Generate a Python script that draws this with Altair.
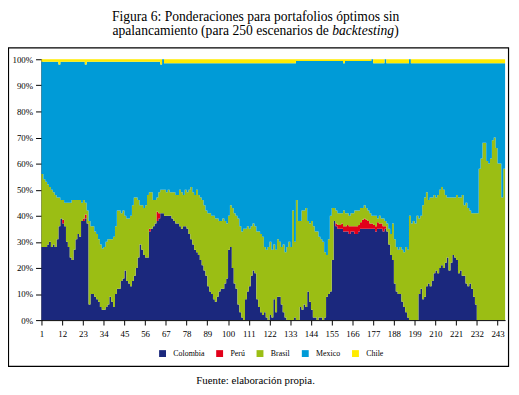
import altair as alt
import pandas as pd

# ---------------- data ----------------
scenarios = list(range(1, 247))

# Colombia share (%), bottom layer; rows of 11 scenarios (1-11, 12-22, ...)
colombia = [
    28, 28, 28, 29, 30, 28, 29, 28, 31, 36, 39,
    37, 36, 30, 28, 24, 23, 27, 31, 33, 32, 38,
    38, 39, 37, 6, 10, 10, 9, 8, 7, 5, 4,
    4, 5, 6, 9, 7, 5, 10, 12, 12, 15, 16,
    19, 15, 14, 13, 15, 17, 20, 24, 29, 27, 25,
    24, 24, 34, 35, 36, 37, 38, 39, 41, 41, 40,
    40, 40, 40, 39, 38, 37, 37, 36, 35, 36, 36,
    35, 33, 31, 29, 27, 26, 25, 23, 21, 19, 17,
    13, 11, 10, 8, 7, 9, 11, 12, 12, 14, 16,
    27, 28, 20, 14, 12, 6, 3, 1, 0, 8, 11,
    13, 17, 19, 18, 8, 5, 3, 2, 3, 1, 0,
    2, 1, 8, 3, 9, 9, 6, 3, 1, 0, 0,
    0, 0, 1, 0, 0, 5, 4, 6, 5, 11, 7,
    4, 1, 1, 0, 1, 1, 0, 1, 9, 10, 11,
    23, 38, 36, 35, 35, 35, 34, 34, 34, 33, 34,
    34, 33, 33, 34, 35, 35, 35, 35, 35, 35, 35,
    35, 34, 35, 35, 35, 34, 35, 34, 29, 25, 23,
    14, 11, 10, 10, 7, 5, 3, 1, 0, 0, 0,
    0, 0, 10, 12, 8, 9, 13, 14, 13, 15, 18,
    19, 18, 20, 21, 20, 22, 24, 19, 22, 25, 24,
    23, 18, 19, 17, 17, 14, 13, 14, 12, 9, 6,
    0, 0, 0, 0, 0, 0, 0, 0, 0, 0, 0,
    0, 0, 0, 0,
]

# Perú share (%)
peru = [
    0, 0, 0, 0, 0, 0, 0, 0, 0, 0, 0,
    1.5, 0, 0, 0, 0, 0, 0, 0, 0, 0, 0,
    1, 1.5, 0, 0, 0, 0, 0, 0, 0, 0, 0,
    0, 0, 0, 0, 0, 0, 0, 0, 0, 0, 0,
    0, 0, 0, 0, 0, 0, 0, 0, 0, 0, 0,
    0, 0, 1, 0, 0, 0, 3.5, 2, 0, 0, 0,
    0, 0, 0, 0, 0, 0, 0, 0, 0, 0, 0,
    0, 0, 0, 0, 0, 0, 0, 0, 0, 0, 0,
    0, 0, 0, 0, 0, 0, 0, 0, 0, 0, 0,
    0, 0, 0, 0, 0, 0, 0, 0, 0, 0, 0,
    0, 0, 0, 0, 0, 0, 0, 0, 0, 0, 0,
    0, 0, 0, 0, 0, 0, 0, 0, 0, 0, 0,
    0, 0, 0, 0, 0, 0, 0, 0, 0, 0, 0,
    0, 0, 0, 0, 0, 0, 0, 0, 0, 0, 0,
    0, 0, 1, 1.5, 1.5, 2, 2, 2, 2.5, 3, 2,
    2, 3, 3, 2.5, 2.5, 3.5, 4, 3.5, 3, 2, 2,
    1.5, 2, 2.5, 2, 2, 2, 1, 0, 0, 0, 0,
    0, 0, 0, 0, 0, 0, 0, 0, 0, 0, 0,
    0, 0, 0, 0, 0, 0, 0, 0, 0, 0, 0,
    0, 0, 0, 0, 0, 0, 0, 0, 0, 0, 0,
    0, 0, 0, 0, 0, 0, 0, 0, 0, 0, 0,
    0, 0, 0, 0, 0, 0, 0, 0, 0, 0, 0,
    0, 0, 0, 0,
]

# top edge of the Brasil layer (Colombia + Perú + Brasil), %
brasil_top = [
    56, 54, 53, 52, 51, 50, 49, 48, 47, 47, 46,
    46, 45, 45, 45, 45, 46, 46, 46, 46, 46, 45,
    46, 45, 42, 38, 36, 36, 34, 33, 31, 29, 27.5,
    28, 30, 31, 31, 31, 32, 36, 42, 42, 41, 42,
    40, 39, 39, 40, 44, 47, 47, 46, 44, 44, 43,
    44, 48, 49, 49, 46, 46, 47, 49, 50, 50, 50,
    49, 50, 49, 49, 49, 48, 48, 50, 49, 48, 50,
    49, 50, 51, 49, 48, 50, 48, 47, 46, 44, 42,
    41, 41, 40, 40, 39, 39, 38, 38, 39, 38, 37,
    40, 44, 43, 41, 40, 39, 36, 34, 35, 35, 36,
    35, 36, 37, 36, 34, 34, 33, 32, 28, 27, 28,
    30, 27, 29, 27, 31, 30, 28, 29, 26, 28, 30,
    28, 42, 30, 46, 38, 38, 42, 42, 43, 38, 37,
    38, 36, 34, 34, 32, 31, 30, 26, 25, 31, 40,
    43, 43, 42, 41, 41, 41, 42, 41, 41, 40, 41,
    41, 42, 42, 42, 43, 43, 44, 43, 42, 41, 40,
    40, 40, 39, 40, 39, 39, 38, 37, 35, 33, 37,
    31, 28, 27, 28, 27, 26, 28, 27, 40, 37, 38,
    37, 40, 39, 40, 44, 47, 49, 46, 47, 47, 48,
    47, 48, 50, 51, 50, 48, 47, 47, 47, 47, 47,
    48, 47, 47, 48, 44, 45, 43, 42, 41, 41, 41,
    41, 58, 62, 68, 68, 61, 60, 62, 69, 70, 66,
    60, 60, 47, 58,
]

# Chile share (%), top layer
chile = [
    1, 1, 1, 1, 1, 1, 1, 1, 1, 2, 1,
    1, 1, 1, 1, 1, 1, 1, 1, 1, 1, 1,
    1, 2, 1, 1, 1, 1, 1, 1, 1, 1, 1,
    1, 1, 1, 1, 1, 1, 1, 1, 1, 1, 1,
    1, 1, 1, 1, 1, 1, 1, 1, 1, 1, 1,
    1, 1, 1, 1, 1, 1, 1, 1, 2, 0, 1.5,
    1.5, 1.5, 1.5, 1.5, 1.5, 1.5, 1.5, 1.5, 1.5, 1.5, 1.5,
    1.5, 1.5, 1.5, 1.5, 1.5, 1.5, 1.5, 1.5, 1.5, 1.5, 1.5,
    1.5, 1.5, 1.5, 1.5, 1.5, 1.5, 1.5, 1.5, 1.5, 1.5, 1.5,
    1.5, 1.5, 1.5, 1.5, 1.5, 1.5, 1.5, 1.5, 1.5, 1.5, 1.5,
    1.5, 1.5, 1.5, 1.5, 1.5, 1.5, 1.5, 1.5, 1.5, 1.5, 1.5,
    1.5, 1.5, 1.5, 1.5, 1.5, 1.5, 1.5, 1.5, 1.5, 1.5, 1.5,
    1.5, 1.5, 1.5, 0.7, 0.7, 0.7, 0.7, 0.7, 0.7, 0.7, 0.7,
    0.7, 0.7, 0.7, 0.7, 0.7, 0.7, 0.7, 0.7, 0.7, 0.7, 0.7,
    0.7, 0.7, 0.7, 0.7, 0.7, 0.7, 1.5, 0.7, 0.7, 0.7, 0.7,
    0.7, 0.7, 0.7, 0.7, 0.7, 0.7, 0.7, 0.7, 0.7, 0.7, 0,
    1.5, 1.5, 1.5, 1.5, 1.5, 1.5, 0, 1.5, 1.5, 1.5, 1.5,
    1.5, 1.5, 1.5, 1.5, 1.5, 1.5, 1.5, 1.5, 0, 1.5, 1.5,
    1.5, 1.5, 1.5, 1.5, 1.5, 1.5, 1.5, 1.5, 1.5, 1.5, 1.5,
    1.5, 1.5, 1.5, 1.5, 1.5, 1.5, 1.5, 1.5, 1.5, 1.5, 1.5,
    1.5, 1.5, 1.5, 1.5, 1.5, 1.5, 1.5, 1.5, 1.5, 1.5, 1.5,
    1.5, 1.5, 1.5, 1.5, 1.5, 1.5, 1.5, 1.5, 1.5, 1.5, 1.5,
    1.5, 1.5, 1.5, 1.5,
]

series = ["Colombia", "Perú", "Brasil", "Mexico", "Chile"]
colors = ["#1B287D", "#E2001A", "#9BBE14", "#009BD7", "#FFEB00"]
x_ticks = [1, 12, 23, 34, 45, 56, 67, 78, 89, 100, 111, 122, 133, 144, 155,
           166, 177, 188, 199, 210, 221, 232, 243]
y_ticks = [0, 10, 20, 30, 40, 50, 60, 70, 80, 90, 100]

title_1 = "Figura 6: Ponderaciones para portafolios óptimos sin"
title_2a = "apalancamiento (para 250 escenarios de"
title_2b = "backtesting"
title_2c = ")"
source = "Fuente: elaboración propia."

# ---------------- long table ----------------
rows = []
for i, s in enumerate(scenarios):
    brasil = brasil_top[i] - colombia[i] - peru[i]
    mexico = 100 - chile[i] - brasil_top[i]
    vals = [colombia[i], peru[i], brasil, mexico, chile[i]]
    for k, name in enumerate(series):
        rows.append({"s": s, "serie": name, "orden": k, "valor": vals[k]})
# close the last step at the right edge of the last scenario
for k, name in enumerate(series):
    last = [r for r in rows if r["s"] == scenarios[-1] and r["serie"] == name][0]
    rows.append({**last, "s": scenarios[-1] + 1})
df = pd.DataFrame(rows)

axis_font = "Liberation Sans Narrow"
serif = "Liberation Serif"

area = alt.Chart(df).mark_area(interpolate="step-after").encode(
    x=alt.X("s:Q",
            scale=alt.Scale(domain=[1, scenarios[-1] + 1], nice=False, zero=False),
            axis=alt.Axis(values=x_ticks, format="d", title=None, grid=False,
                          domainColor="black", tickColor="black", labelColor="black",
                          tickSize=5, labelPadding=5, labelFont=axis_font,
                          labelFontSize=9, labelFlush=False, labelOverlap=False)),
    y=alt.Y("valor:Q", stack="zero",
            scale=alt.Scale(domain=[0, 100], nice=False),
            axis=alt.Axis(values=y_ticks, labelExpr="datum.value + '%'", title=None,
                          grid=False, domainColor="black", tickColor="black",
                          labelColor="black", tickSize=6, labelPadding=3,
                          labelFont=axis_font, labelFontSize=9)),
    color=alt.Color("serie:N",
                    scale=alt.Scale(domain=series, range=colors),
                    legend=alt.Legend(title=None, orient="none", legendX=119,
                                      legendY=295, direction="horizontal",
                                      symbolType="square", symbolSize=49,
                                      symbolStrokeWidth=0, symbolOpacity=1,
                                      labelFont=serif, labelFontSize=8,
                                      labelColor="black", labelOffset=7,
                                      columnPadding=11, padding=0)),
    order=alt.Order("orden:Q", sort="ascending"),
)

one = alt.Data(values=[{}])

box = alt.Chart(one).mark_rect(fill="transparent", stroke="black", strokeWidth=1.2).encode(
    x=alt.value(-33.5), x2=alt.value(474.5), y=alt.value(-11.5), y2=alt.value(312)
)

t1 = alt.Chart(one).mark_text(font=serif, fontSize=13.8, align="center",
                              baseline="alphabetic", color="black").encode(
    x=alt.value(217.5), y=alt.value(-38.5), text=alt.value(title_1))
t2a = alt.Chart(one).mark_text(font=serif, fontSize=13.8, align="right",
                               baseline="alphabetic", color="black").encode(
    x=alt.value(292), y=alt.value(-24.5), text=alt.value(title_2a))
t2b = alt.Chart(one).mark_text(font=serif, fontSize=13.8, align="left", fontStyle="italic",
                               baseline="alphabetic", color="black").encode(
    x=alt.value(295.4), y=alt.value(-24.5), text=alt.value(title_2b))
t2c = alt.Chart(one).mark_text(font=serif, fontSize=13.8, align="left",
                               baseline="alphabetic", color="black").encode(
    x=alt.value(358.3), y=alt.value(-24.5), text=alt.value(title_2c))
src = alt.Chart(one).mark_text(font=serif, fontSize=11, align="center",
                               baseline="alphabetic", color="black").encode(
    x=alt.value(217.5), y=alt.value(330), text=alt.value(source))

chart = alt.layer(area, box, t1, t2a, t2b, t2c, src).properties(
    width=471, height=265, autosize="none",
    padding={"left": 34, "top": 49, "right": 6, "bottom": 73},
    background="white",
).configure_view(stroke=None)

chart.save("out.html", embed_options={"renderer": "svg", "actions": False})
